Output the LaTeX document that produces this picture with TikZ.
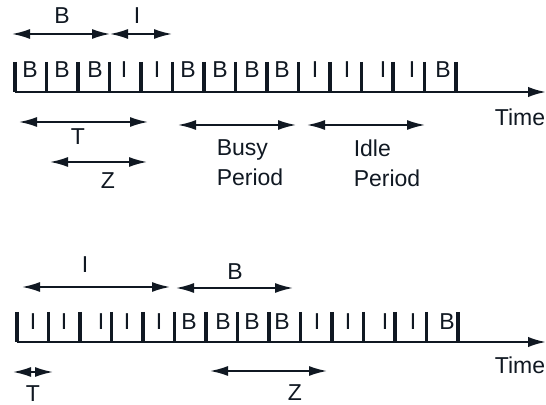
\documentclass[tikz,border=0pt]{standalone}
\usepackage{fontspec}
\setmainfont{Liberation Sans}
\usetikzlibrary{arrows.meta, positioning}
\definecolor{ink}{RGB}{16,24,34}

\begin{document}
\begin{tikzpicture}[x=0.5pt, y=-0.5pt, color=ink,
    lbl/.style={font=\fontsize{11.5}{15}\selectfont, inner sep=0pt, text=ink},
    span/.style={{Latex[length=9pt,width=5pt]}-{Latex[length=9pt,width=5pt]}, line width=0.85pt},
    slotmark/.style={line width=1.8pt},
    timeaxis/.style={-{Latex[length=9pt,width=5.2pt]}, line width=1.1pt}]
    \useasboundingbox (0,0) rectangle (546,405);

    % Upper time line: 14 slots, B = busy, I = idle
    \coordinate (axA-0) at (15,92);
    \coordinate (axA-1) at (546,92);
    \draw[timeaxis] (axA-0) -- (axA-1);
    \foreach \k in {0,...,14}
        \draw[slotmark] (15+31.5*\k,62) -- (15+31.5*\k,92);
    \foreach \x/\t [count=\i] in {30/B,62/B,95/B,124/I,157/I,188/B,220/B,252/B,
                                  282/B,315/I,347/I,383/I,412/I,443/B}
        \node[lbl] (slotA-\i) at (\x,70) {\t};
    \node[lbl] (timeA) at (520,117) {Time};

    % B and I spans above the upper line
    \coordinate (bA-l) at (12,34);
    \coordinate (bA-r) at (110,34);
    \coordinate (iA-r) at (172,34);
    \draw[span] (bA-l) -- (bA-r);
    \draw[span] (bA-r) -- (iA-r);
    \node[lbl] (labBA) at (62,16) {B};
    \node[lbl] (labIA) at (137,16) {I};

    % T, Z, busy and idle periods below the upper line
    \coordinate (tA-l) at (19,122);
    \coordinate (tA-r) at (148,122);
    \draw[span] (tA-l) -- (tA-r);
    \node[lbl] (labTA) at (78,137) {T};
    \coordinate (zA-l) at (50,162);
    \coordinate (zA-r) at (147,162);
    \draw[span] (zA-l) -- (zA-r);
    \node[lbl] (labZA) at (108,181) {Z};
    \coordinate (busy-l) at (178,125);
    \coordinate (busy-r) at (296,125);
    \draw[span] (busy-l) -- (busy-r);
    \node[lbl, align=left] (busy) at (250,163) {Busy\\Period};
    \coordinate (idle-l) at (307,125);
    \coordinate (idle-r) at (425,125);
    \draw[span] (idle-l) -- (idle-r);
    \node[lbl, align=left] (idle) at (387,163) {Idle\\Period};

    % Lower time line
    \coordinate (axB-0) at (17,342);
    \coordinate (axB-1) at (546,342);
    \draw[timeaxis] (axB-0) -- (axB-1);
    \foreach \k in {0,...,14}
        \draw[slotmark] (17+31.5*\k,312) -- (17+31.5*\k,342);
    \foreach \x/\t [count=\i] in {33/I,64/I,101/I,127/I,159/I,189/B,223/B,252/B,
                                  282/B,317/I,348/I,385/I,413/I,447/B}
        \node[lbl] (slotB-\i) at (\x,322) {\t};
    \node[lbl] (timeB) at (520,365) {Time};

    % I and B spans above the lower line
    \coordinate (iB-l) at (22,287);
    \coordinate (iB-r) at (170,287);
    \draw[span] (iB-l) -- (iB-r);
    \node[lbl] (labIB) at (85,265) {I};
    \coordinate (bB-l) at (176,288);
    \coordinate (bB-r) at (293,288);
    \draw[span] (bB-l) -- (bB-r);
    \node[lbl] (labBB) at (235,272) {B};

    % T and Z below the lower line
    \coordinate (tB-l) at (13,372);
    \coordinate (tB-r) at (53,372);
    \draw[span] (tB-l) -- (tB-r);
    \node[lbl] (labTB) at (33,394) {T};
    \coordinate (zB-l) at (210,371);
    \coordinate (zB-r) at (327,371);
    \draw[span] (zB-l) -- (zB-r);
    \node[lbl] (labZB) at (295,393) {Z};
\end{tikzpicture}
\end{document}
